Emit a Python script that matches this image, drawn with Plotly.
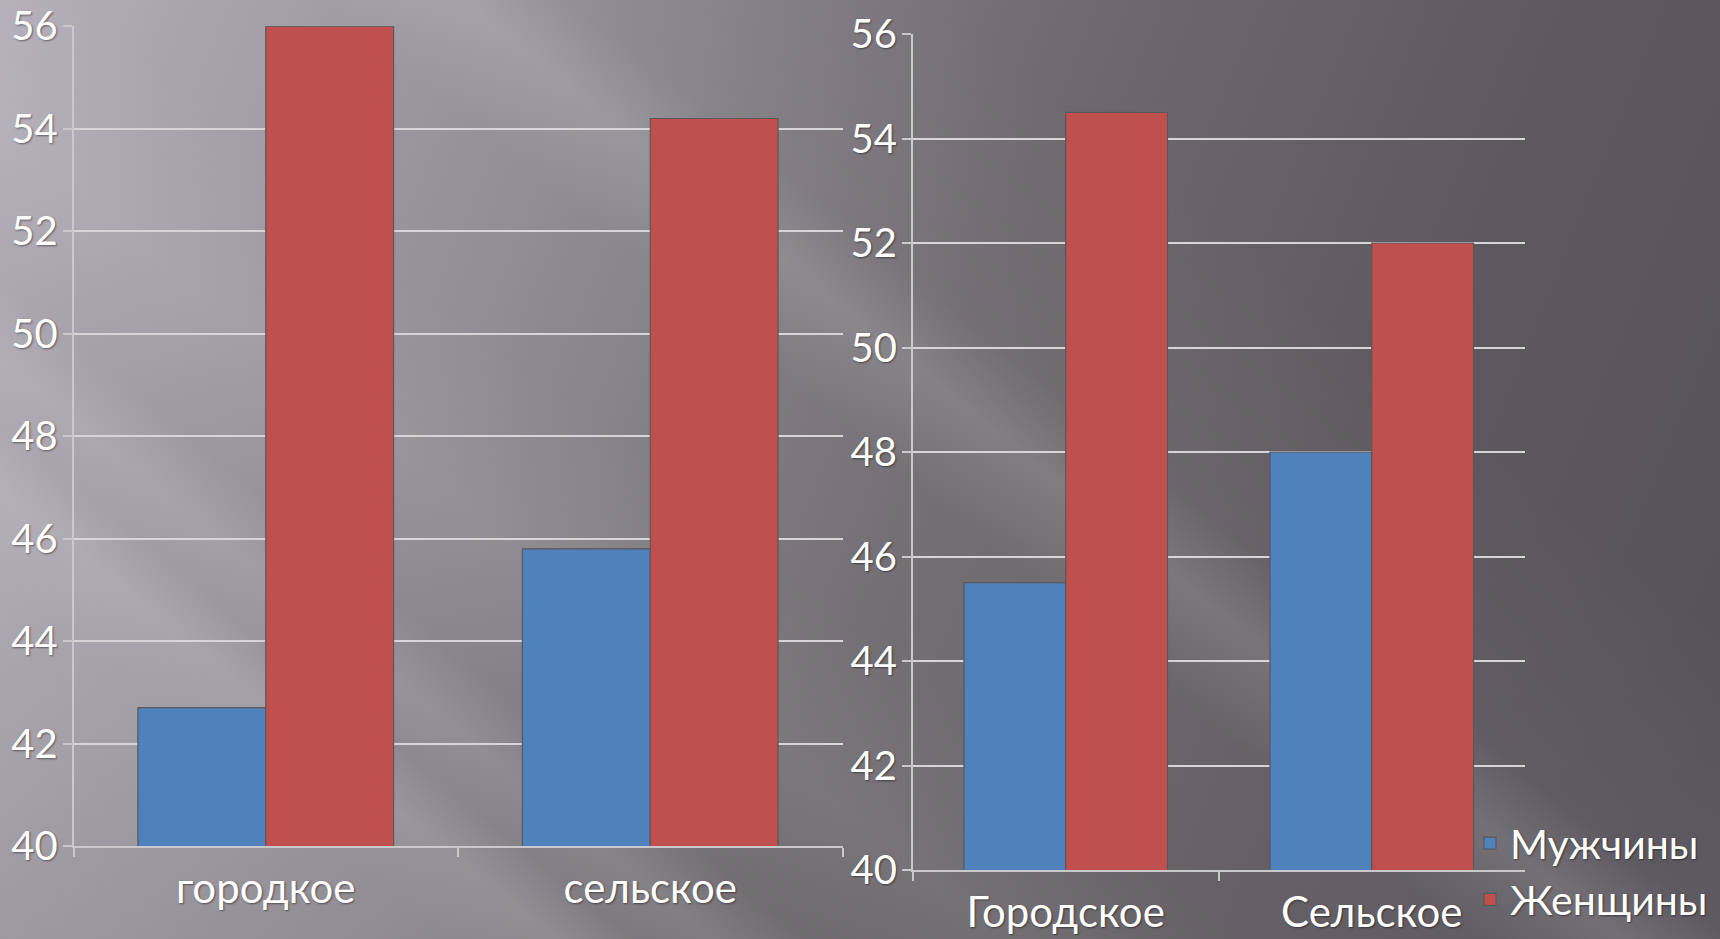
import base64
import plotly.graph_objects as go

# data
left_categories = ['городкое', 'сельское']
left_men = [42.7, 45.8]
left_women = [56.0, 54.2]

right_categories = ['Городское', 'Сельское']
right_men = [45.5, 48.0]
right_women = [54.5, 52.0]

series_names = ['Мужчины', 'Женщины']
series_colors = ['#4f81bd', '#c0504d']

W, H = 1720, 939
FONT = 'Lato, "Open Sans", sans-serif'
SHADOW = '1px 1px 2px rgba(0,0,0,0.45)'


def band_stops():
    # soft light diagonal streaks, position along the perpendicular of the streaks
    s_min, s_max = -730.0, 1082.0
    pts = [(-730, 0.05), (-450, 0.12), (-380, 0.18), (-330, 0.07), (-280, 0.13),
           (-220, 0.03), (-100, 0.10), (50, 0.05), (200, 0.05), (290, 0.16),
           (360, 0.04), (600, 0.0), (1082, 0.0)]
    out = []
    for s, a in pts:
        off = (s - s_min) / (s_max - s_min)
        out.append(f'<stop offset="{off:.3f}" stop-color="#ffffff" stop-opacity="{a}"/>')
    return ''.join(out)


svg = f'''<svg xmlns="http://www.w3.org/2000/svg" width="{W}" height="{H}" viewBox="0 0 {W} {H}">
<defs>
<linearGradient id="base" gradientUnits="userSpaceOnUse" x1="0" y1="0" x2="1720" y2="700">
<stop offset="0" stop-color="#b0abb5"/>
<stop offset="0.3" stop-color="#8c888f"/>
<stop offset="0.55" stop-color="#6d696e"/>
<stop offset="0.8" stop-color="#5c585d"/>
<stop offset="1" stop-color="#57535a"/>
</linearGradient>
<linearGradient id="bands" gradientUnits="userSpaceOnUse" x1="0" y1="939" x2="{0.629*1812:.1f}" y2="{939-0.777*1812:.1f}">
{band_stops()}
</linearGradient>
</defs>
<rect x="0" y="0" width="{W}" height="{H}" fill="url(#base)"/>
<rect x="0" y="0" width="{W}" height="{H}" fill="url(#bands)"/>
</svg>'''
bg_uri = 'data:image/svg+xml;base64,' + base64.b64encode(svg.encode('utf-8')).decode('ascii')

fig = go.Figure()

for i, (name, color) in enumerate(zip(series_names, series_colors)):
    vals_left = [left_men, left_women][i]
    vals_right = [right_men, right_women][i]
    fig.add_trace(go.Bar(
        x=left_categories, y=vals_left, name=name, legendgroup=name,
        marker=dict(color=color, line=dict(color='#5b575d', width=1.2)),
        xaxis='x', yaxis='y', showlegend=True
    ))
    fig.add_trace(go.Bar(
        x=right_categories, y=vals_right, name=name, legendgroup=name,
        marker=dict(color=color, line=dict(color='#5b575d', width=1.2)),
        xaxis='x2', yaxis='y2', showlegend=False
    ))

axis_common = dict(
    showline=True, linecolor='#c9c9cc', linewidth=1.5,
    ticks='outside', ticklen=9, tickcolor='#c9c9cc', tickwidth=1.5,
    automargin=False,
)
yaxis_common = dict(
    range=[40, 56], dtick=2, showgrid=True, gridcolor='#d6d6d8', gridwidth=1.5,
    zeroline=False, ticklabelstandoff=-3,
    tickfont=dict(family=FONT, size=40, color='#ffffff', shadow=SHADOW),
    **axis_common
)
xaxis_common = dict(
    type='category', showgrid=False, tickson='boundaries', ticklabelstandoff=5,
    tickfont=dict(family=FONT, size=42, color='#ffffff', shadow=SHADOW),
    **axis_common
)

fig.update_layout(
    width=W, height=H,
    margin=dict(l=0, r=0, t=0, b=0, autoexpand=False),
    paper_bgcolor='#7a767c',
    plot_bgcolor='rgba(0,0,0,0)',
    barmode='group', bargap=0.335, bargroupgap=0,
    font=dict(family=FONT, color='#ffffff'),
    xaxis=dict(domain=[73.5 / W, 842.5 / W], anchor='y', **xaxis_common),
    yaxis=dict(domain=[1 - 846 / H, 1 - 26.3 / H], anchor='x', **yaxis_common),
    xaxis2=dict(domain=[912.7 / W, 1524.8 / W], anchor='y2', **xaxis_common),
    yaxis2=dict(domain=[1 - 870 / H, 1 - 34 / H], anchor='x2', **yaxis_common),
    legend=dict(
        x=1470 / W, y=1 - 810 / H, xanchor='left', yanchor='top',
        bgcolor='rgba(0,0,0,0)', borderwidth=0,
        font=dict(family=FONT, size=41, color='#ffffff', shadow=SHADOW),
        itemwidth=30, tracegroupgap=0,
    ),
    images=[dict(source=bg_uri, xref='paper', yref='paper', x=0, y=1,
                 sizex=1, sizey=1, sizing='stretch', layer='below',
                 xanchor='left', yanchor='top')],
    showlegend=True,
)

fig.write_html("out.html", config=dict(displayModeBar=False),
               post_script="document.body.style.margin='0';document.body.style.overflow='hidden';")
